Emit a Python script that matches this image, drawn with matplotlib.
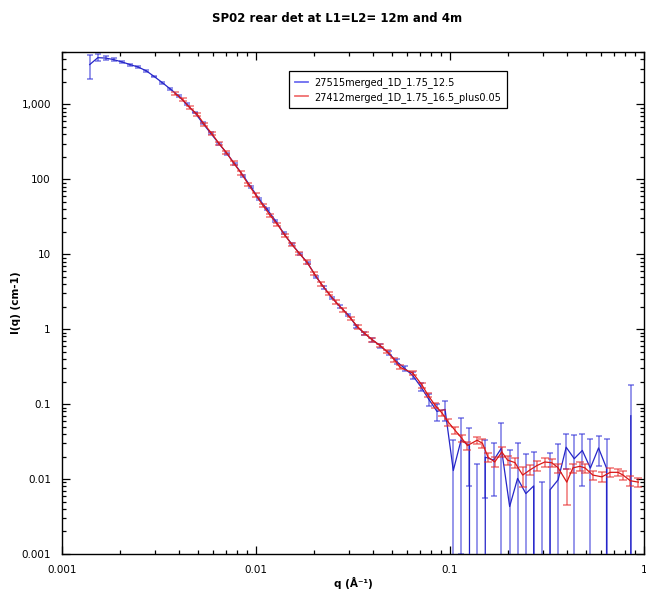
import numpy as np
import matplotlib
matplotlib.use('Agg')
import matplotlib.pyplot as plt
from matplotlib.lines import Line2D

# blue series: 27515merged_1D_1.75_12.5
blue_q = [0.00139, 0.00153, 0.00168, 0.00185, 0.00204, 0.00224, 0.00247, 0.00272, 0.00299, 0.00329,
          0.00362, 0.00399, 0.00439, 0.00483, 0.00532, 0.00585, 0.00644, 0.00709, 0.00780, 0.00859,
          0.00945, 0.0104, 0.0114, 0.0126, 0.0139, 0.0153, 0.0168, 0.0185, 0.0204, 0.0224,
          0.0247, 0.0271, 0.0299, 0.0329, 0.0362, 0.0398, 0.0438, 0.0482, 0.0531, 0.0584,
          0.0643, 0.0708, 0.0779, 0.0857, 0.0943, 0.104, 0.114, 0.126, 0.138, 0.152,
          0.168, 0.184, 0.203, 0.223, 0.246, 0.270, 0.298, 0.328, 0.361, 0.397,
          0.437, 0.481, 0.529, 0.583, 0.641, 0.706, 0.777, 0.855]
blue_I = [3400, 4200, 4150, 3950, 3680, 3400, 3150, 2800, 2350, 1950,
          1600, 1300, 1000, 780, 560, 410, 300, 220, 158, 112,
          78, 54, 40, 28, 19, 13.6, 10.2, 7.6, 5.0, 3.6,
          2.6, 2.0, 1.55, 1.1, 0.88, 0.72, 0.6, 0.48, 0.37, 0.3,
          0.24, 0.17, 0.115, 0.08, 0.085, 0.013, 0.033, 0.028, -0.004, 0.0196,
          0.0179, 0.0258, 0.0043, 0.0102, 0.0064, 0.0081, -0.003, 0.0072, 0.0098, 0.0266,
          0.0187, 0.0241, 0.014, 0.026, 0.014, -0.01, -0.01, 0.07]
blue_err = [1200, 450, 250, 150, 120, 100, 90, 80, 65, 55,
            45, 36, 28, 22, 16, 12, 9, 6.5, 4.8, 3.4,
            2.4, 1.7, 1.3, 0.9, 0.62, 0.45, 0.34, 0.26, 0.18, 0.13,
            0.1, 0.08, 0.065, 0.05, 0.045, 0.04, 0.035, 0.03, 0.028, 0.026,
            0.025, 0.022, 0.02, 0.02, 0.025, 0.02, 0.032, 0.02, 0.02, 0.014,
            0.012, 0.03, 0.02, 0.02, 0.015, 0.015, 0.012, 0.015, 0.02, 0.013,
            0.02, 0.016, 0.02, 0.011, 0.02, 0.01, 0.01, 0.11]

# red series: 27412merged_1D_1.75_16.5_plus0.05
red_q = [0.00383, 0.00418, 0.00456, 0.00497, 0.00542, 0.00591, 0.00645, 0.00703, 0.00767, 0.00836,
         0.00912, 0.00995, 0.01085, 0.01183, 0.0129, 0.01407, 0.01535, 0.01674, 0.01825, 0.0199,
         0.0217, 0.0237, 0.0258, 0.0282, 0.0307, 0.0335, 0.0365, 0.0398, 0.0434, 0.0474,
         0.0517, 0.0552, 0.0644, 0.0718, 0.077, 0.0836, 0.091, 0.098, 0.106, 0.115,
         0.123, 0.138, 0.147, 0.157, 0.170, 0.185, 0.198, 0.216, 0.237, 0.258,
         0.280, 0.308, 0.335, 0.361, 0.400, 0.430, 0.467, 0.496, 0.545, 0.607,
         0.669, 0.735, 0.78, 0.85, 0.935]
red_I = [1390, 1160, 900, 740, 540, 410, 300, 228, 165, 122,
         86, 62, 45, 33, 25, 18, 13.4, 10.2, 7.9, 5.6,
         4.0, 3.0, 2.3, 1.8, 1.4, 1.07, 0.87, 0.72, 0.61, 0.50,
         0.39, 0.311, 0.259, 0.179, 0.132, 0.097, 0.076, 0.0575, 0.045, 0.035,
         0.028, 0.033, 0.030, 0.0196, 0.0169, 0.023, 0.0179, 0.0166, 0.0113, 0.0132,
         0.0151, 0.0169, 0.0165, 0.0141, 0.0091, 0.0141, 0.0148, 0.0141, 0.0113, 0.0107,
         0.0123, 0.0123, 0.0113, 0.0095, 0.0091]
red_rel = [0.05, 0.05, 0.05, 0.05, 0.05, 0.05, 0.05, 0.05, 0.05, 0.05,
           0.05, 0.05, 0.05, 0.05, 0.05, 0.05, 0.05, 0.05, 0.05, 0.05,
           0.05, 0.05, 0.05, 0.05, 0.05, 0.05, 0.05, 0.05, 0.05, 0.05,
           0.06, 0.06, 0.06, 0.07, 0.07, 0.08, 0.09, 0.1, 0.1, 0.12,
           0.12, 0.12, 0.13, 0.14, 0.15, 0.15, 0.15, 0.15, 0.3, 0.15,
           0.14, 0.13, 0.13, 0.14, 0.5, 0.14, 0.13, 0.14, 0.15, 0.15,
           0.13, 0.12, 0.13, 0.15, 0.15]
red_err = np.array(red_I) * np.array(red_rel)

x_ticks = [0.001, 0.01, 0.1, 1]
x_labels = ['0.001', '0.01', '0.1', '1']
y_ticks = [0.001, 0.01, 0.1, 1, 10, 100, 1000]
y_labels = ['0.001', '0.01', '0.1', '1', '10', '100', '1,000']

fig = plt.figure(figsize=(6.46, 5.89), dpi=100)
ax = fig.add_axes([62/646, 35/589, 582/646, 502/589])
ax.set_xscale('log')
ax.set_yscale('log')

# blue: error bars lighter, line on top
ax.errorbar(blue_q, blue_I, yerr=blue_err, fmt='none', ecolor='#3030d8', alpha=0.55,
            elinewidth=1.3, capsize=2.2, capthick=1.3, zorder=2)
ax.plot(blue_q, blue_I, color='#2525c8', lw=0.9, zorder=3)

# red
ax.errorbar(red_q, red_I, yerr=red_err, fmt='none', ecolor='#e82a2a', alpha=0.55,
            elinewidth=1.3, capsize=3, capthick=1.3, zorder=4)
ax.plot(red_q, red_I, color='#d81818', lw=0.9, zorder=5)

ax.set_xlim(0.001, 1)
ax.set_ylim(0.001, 5000)
ax.set_xticks(x_ticks)
ax.set_xticklabels(x_labels)
ax.set_yticks(y_ticks)
ax.set_yticklabels(y_labels)

ax.tick_params(which='both', direction='in', top=True, right=True, labelsize=7.5, color='black')
ax.tick_params(which='major', length=6, width=0.9, pad=8)
ax.tick_params(which='minor', length=3, width=0.9)
for s in ax.spines.values():
    s.set_linewidth(1.0)

ax.set_xlabel('q (Å⁻¹)', fontsize=7.5, fontweight='bold', labelpad=1)
ax.set_ylabel('I(q) (cm-1)', fontsize=7.5, fontweight='bold', labelpad=0)

fig.text(337/646, 1 - 18/589, 'SP02 rear det at L1=L2= 12m and 4m', ha='center', va='center',
         fontsize=8.5, fontweight='bold')

handles = [Line2D([], [], color='#6c6cf0', lw=1.3),
           Line2D([], [], color='#f07070', lw=1.3)]
leg = ax.legend(handles, ['27515merged_1D_1.75_12.5', '27412merged_1D_1.75_16.5_plus0.05'],
                loc='upper left', bbox_to_anchor=(0.39, 0.962), fontsize=7,
                frameon=True, fancybox=False, framealpha=1, edgecolor='black',
                handlelength=1.4, handletextpad=0.6, borderpad=0.6, labelspacing=0.4,
                borderaxespad=0)
leg.get_frame().set_linewidth(0.9)

fig.savefig('out.png', dpi=100)
